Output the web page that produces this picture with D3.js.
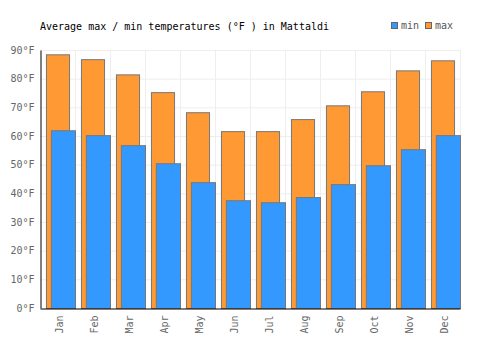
<!DOCTYPE html>
<html>
<head>
<meta charset="utf-8">
<script src="https://cdn.jsdelivr.net/npm/d3@7"></script>
<style>
body { margin: 0; background: #fff; }
text { font-family: "DejaVu Sans Mono", monospace; }
</style>
</head>
<body>
<svg width="500" height="350"></svg>
<script>
const months = ["Jan","Feb","Mar","Apr","May","Jun","Jul","Aug","Sep","Oct","Nov","Dec"]
const maxT = [88.5, 86.8, 81.5, 75.3, 68.3, 61.7, 61.7, 65.9, 70.7, 75.6, 82.9, 86.4]
const minT = [62.0, 60.3, 56.8, 50.5, 43.9, 37.6, 36.9, 38.7, 43.2, 49.8, 55.4, 60.3]
const yTicks = [0, 10, 20, 30, 40, 50, 60, 70, 80, 90]

const svg = d3.select("svg")
const mLeft = 40, mRight = 460, mTop = 50, mBottom = 308

const x = d3.scaleBand().domain(months).range([mLeft, mRight])
const y = d3.scaleLinear().domain([0, 90]).range([mBottom, mTop])

// grid
const grid = svg.append("g").attr("stroke", "#eee").attr("stroke-width", 1)
grid.selectAll("line.h").data(yTicks.slice(1)).enter().append("line")
	.attr("x1", mLeft).attr("x2", mRight)
	.attr("y1", d => y(d) + 0.5).attr("y2", d => y(d) + 0.5)
grid.selectAll("line.v").data(months).enter().append("line")
	.attr("x1", d => x(d) + x.bandwidth() + 0.5).attr("x2", d => x(d) + x.bandwidth() + 0.5)
	.attr("y1", mTop).attr("y2", mBottom)

// bars
const bw = x.bandwidth()
svg.append("g").selectAll("rect").data(months).enter().append("rect")
	.attr("x", d => x(d) + bw * 0.17 + 0.5)
	.attr("width", bw * 0.66)
	.attr("y", (d, i) => y(maxT[i]) + 0.5)
	.attr("height", (d, i) => mBottom - y(maxT[i]))
	.attr("fill", "#ff9933").attr("stroke", "#777").attr("stroke-width", 1)

svg.append("g").selectAll("rect").data(months).enter().append("rect")
	.attr("x", d => x(d) + bw * 0.31 + 0.5)
	.attr("width", bw * 0.69)
	.attr("y", (d, i) => y(minT[i]) + 0.5)
	.attr("height", (d, i) => mBottom - y(minT[i]))
	.attr("fill", "#3399ff").attr("stroke", "#777").attr("stroke-width", 1)

// axes
const yAxis = d3.axisLeft(y).tickValues(yTicks).tickSize(0).tickPadding(6)
	.tickFormat(d => d + "°F")
const yG = svg.append("g").attr("transform", `translate(${mLeft + 0.5},0)`).call(yAxis)
yG.select(".domain").attr("stroke", "#000")
yG.selectAll("text").attr("fill", "#666").style("font-size", "10px")
	.style("font-family", "'DejaVu Sans Mono', monospace")

const xAxis = d3.axisBottom(x).tickSize(0).tickPadding(0)
const xG = svg.append("g").attr("transform", `translate(0,${mBottom + 0.5})`).call(xAxis)
xG.select(".domain").attr("stroke", "#000")
xG.selectAll("text").attr("fill", "#666").style("font-size", "10px")
	.style("font-family", "'DejaVu Sans Mono', monospace")
	.attr("text-anchor", "end").attr("dy", "0.35em")
	.attr("transform", "translate(2,7) rotate(-90)")
	.attr("y", 0).attr("x", 0)

// title
svg.append("text").attr("x", 40).attr("y", 30)
	.style("font-size", "10px").attr("fill", "#000")
	.text("Average max / min temperatures (°F ) in Mattaldi")

// legend
const legend = [["min", "#3399ff", 391], ["max", "#ff9933", 425]]
legend.forEach(([name, col, lx]) => {
	svg.append("rect").attr("x", lx + 0.5).attr("y", 22.5).attr("width", 6).attr("height", 6)
		.attr("fill", col).attr("stroke", "#666")
	svg.append("text").attr("x", lx + 10).attr("y", 29)
		.style("font-size", "10px").attr("fill", "#555").text(name)
})
</script>
</body>
</html>
